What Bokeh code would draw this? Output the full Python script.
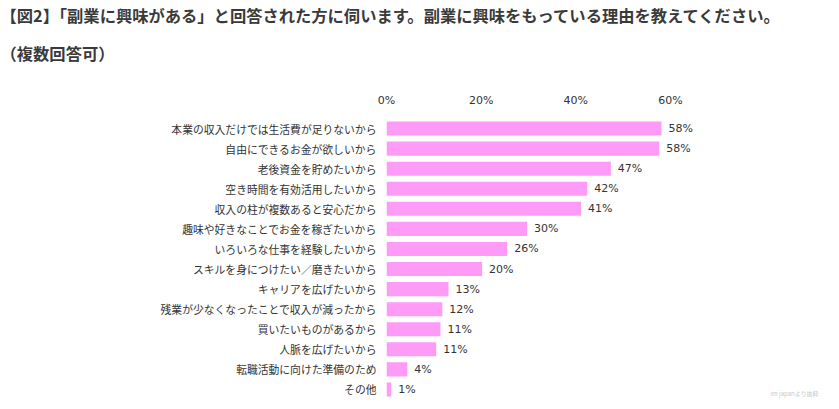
from bokeh.plotting import figure
from bokeh.models import Range1d, FixedTicker, Title, ColumnDataSource, Label
from bokeh.core.properties import value
from bokeh.embed import file_html
from bokeh.resources import INLINE

categories = [
    "本業の収入だけでは生活費が足りないから",
    "自由にできるお金が欲しいから",
    "老後資金を貯めたいから",
    "空き時間を有効活用したいから",
    "収入の柱が複数あると安心だから",
    "趣味や好きなことでお金を稼ぎたいから",
    "いろいろな仕事を経験したいから",
    "スキルを身につけたい／磨きたいから",
    "キャリアを広げたいから",
    "残業が少なくなったことで収入が減ったから",
    "買いたいものがあるから",
    "人脈を広げたいから",
    "転職活動に向けた準備のため",
    "その他",
]
values = [58.1, 57.6, 47.4, 42.4, 41.1, 29.7, 25.5, 20.2, 13.1, 11.8, 11.4, 10.5, 4.4, 1.0]
value_labels = ["58%", "58%", "47%", "42%", "41%", "30%", "26%", "20%", "13%", "12%", "11%", "11%", "4%", "1%"]
x_ticks = [0, 20, 40, 60]

n = len(categories)
ypos = [n - 1 - i for i in range(n)]

src = ColumnDataSource(dict(y=ypos, v=values, lab=value_labels, cat=categories))

p = figure(width=839, height=409, output_backend="svg", toolbar_location=None,
           x_range=Range1d(0, 95.7), y_range=Range1d(-0.5, n - 0.5),
           x_axis_location="above", min_border_left=386, min_border_right=0,
           min_border_top=118, min_border_bottom=10)
p.outline_line_color = None
p.xgrid.visible = False
p.ygrid.visible = False
p.background_fill_color = "white"
p.border_fill_color = "white"

p.hbar(y="y", left=0, right="v", height=0.7, source=src, color="#fd9bf6", line_color=None)
p.text(x="v", y="y", text="lab", source=src, x_offset=7, text_baseline="middle",
       text_align="left", text_font=value("DejaVu Sans"), text_font_size="11px", text_color="#333333")

xa = p.xaxis[0]
xa.ticker = FixedTicker(ticks=x_ticks)
xa.major_label_overrides = {t: f"{t}%" for t in x_ticks}
xa.axis_line_color = None
xa.major_tick_line_color = None
xa.minor_tick_line_color = None
xa.major_tick_out = 0
xa.major_tick_in = 0
xa.major_label_standoff = 12
xa.major_label_text_font = "DejaVu Sans"
xa.major_label_text_font_size = "11px"
xa.major_label_text_color = "#333333"

ya = p.yaxis[0]
ya.ticker = FixedTicker(ticks=ypos)
ya.major_label_overrides = {y: c for y, c in zip(ypos, categories)}
ya.axis_line_color = None
ya.major_tick_line_color = None
ya.minor_tick_line_color = None
ya.major_tick_out = 0
ya.major_tick_in = 0
ya.major_label_standoff = 10
ya.major_label_text_font = "Noto Sans CJK JP"
ya.major_label_text_font_size = "10.8px"
ya.major_label_text_color = "#333333"

# spacer between axis and subtitle
p.add_layout(Title(text=" ", standoff=11, text_font_size="1px"), "above")
p.add_layout(Title(text="（複数回答可）", align="left", offset=-386, standoff=24,
                   text_font="Noto Sans CJK JP", text_font_size="16.3px", text_font_style="bold",
                   text_color="#3a3a3a"), "above")
p.add_layout(Title(text="【図2】「副業に興味がある」と回答された方に伺います。副業に興味をもっている理由を教えてください。",
                   align="left", offset=-386, standoff=0,
                   text_font="Noto Sans CJK JP", text_font_size="16.3px", text_font_style="bold",
                   text_color="#3a3a3a"), "above")

p.add_layout(Label(x=91.3, y=-0.2, text="en japanより抜粋", text_align="right", text_baseline="middle",
                   text_font="Noto Sans CJK JP", text_font_size="6px", text_color="#c8c8c8"))

open("out.html", "w").write(file_html(p, INLINE))
